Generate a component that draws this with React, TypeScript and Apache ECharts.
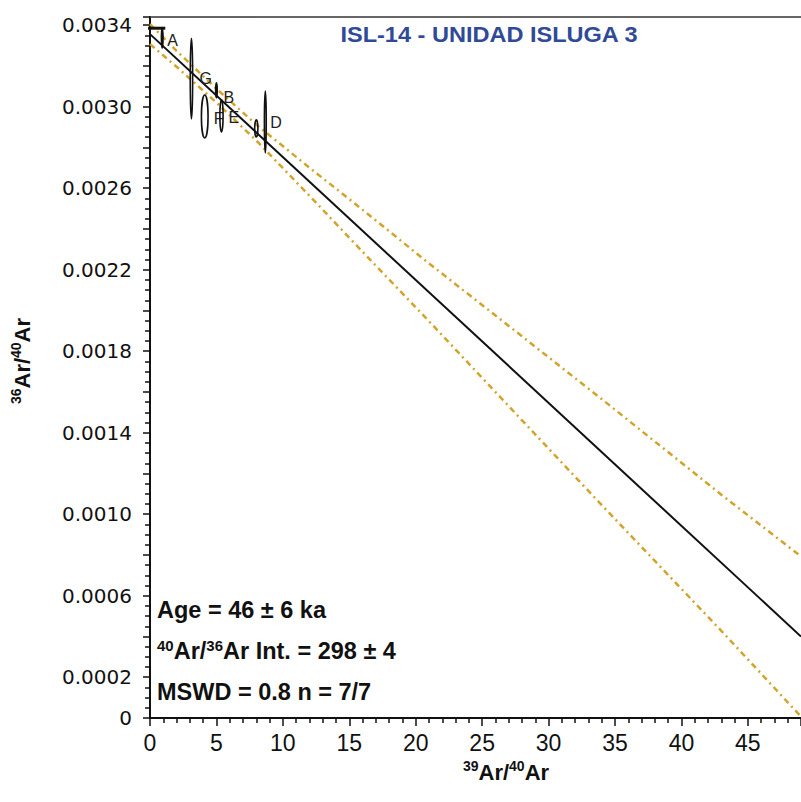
import React, { useEffect, useRef } from "react";
import * as echarts from "echarts";

// ---- data ----
const xMax = 49;
const yMax = 0.00344;

// step ellipses: [x, y, halfWidthX, halfHeightY]
const stepNames = ["A", "G", "F", "B", "E", "C", "D"];
const stepX = [0.92, 3.12, 4.12, 5.0, 5.38, 8.0, 8.68];
const stepY = [0.003336, 0.003138, 0.002952, 0.00308, 0.002955, 0.002893, 0.002925];
const stepErrX = [0.05, 0.09, 0.25, 0.05, 0.12, 0.12, 0.07];
const stepErrY = [0.000049, 0.000198, 0.000105, 0.000037, 0.000079, 0.000042, 0.000152];
const stepLabels = ["A", "G", "F", "B", "E", "", "D"];

// isochron line
const isoX = [0, 49];
const isoY = [0.003356, 0.0004];

// error envelope
const envX = [0, 2, 5, 8, 12, 16, 21, 28, 34, 43, 49];
const envUpper = [0.003405, 0.003274, 0.003088, 0.002912, 0.002701, 0.002494, 0.002231, 0.001873, 0.001565, 0.001096, 0.000793];
const envLower = [0.003307, 0.003196, 0.00302, 0.002834, 0.002563, 0.002288, 0.001947, 0.001461, 0.001045, 0.000428, 0.000007];

// intercept marker
const markX = [-0.6, 1.15];
const markY = [0.003385, 0.003385];

const titleText = "ISL-14 - UNIDAD ISLUGA 3";
const ageText = "Age = 46 ± 6 ka";
const intText = "Ar Int. = 298 ± 4";
const mswdText = "MSWD = 0.8 n = 7/7";

// label offsets (pixels) for step labels
const labelDX = [5, 8, 9, 7, 7, 5, 5];
const labelDY = [2, 0, 2, 7, 2, 1, 1];

const GOLD = "#D2A42C";
const FONT = "Liberation Sans, Arial";

export default function App() {
  const ref = useRef<HTMLDivElement>(null);
  useEffect(() => {
    if (!ref.current) return;
    const chart = echarts.init(ref.current, undefined, { renderer: "svg" });

    const ellipseData = stepNames.map((n, i) => [stepX[i], stepY[i], stepErrX[i], stepErrY[i], i]);

    const boxRich = {
      b: { fontFamily: FONT, fontWeight: "bold", fontSize: 23.5, lineHeight: 27, fill: "#111" },
      s: { fontFamily: FONT, fontWeight: "bold", fontSize: 15, lineHeight: 27, verticalAlign: "top", fill: "#111" },
    } as any;
    const nameRich = {
      b: { fontFamily: FONT, fontWeight: "bold", fontSize: 22, lineHeight: 26, fill: "#111" },
      s: { fontFamily: FONT, fontWeight: "bold", fontSize: 14, lineHeight: 26, verticalAlign: "top", fill: "#111" },
    } as any;

    const option: any = {
      animation: false,
      backgroundColor: "#fff",
      grid: { left: 150, right: 0, top: 17, bottom: 84 },
      xAxis: [
        {
          type: "value",
          min: 0,
          max: xMax,
          interval: 5,
          axisLine: { show: true, onZero: false, lineStyle: { color: "#111", width: 2 } },
          axisTick: { show: true, length: 8, lineStyle: { color: "#111", width: 1.5 } },
          minorTick: { show: true, splitNumber: 5, length: 5, lineStyle: { color: "#111", width: 1.5 } },
          splitLine: { show: false },
          axisLabel: {
            margin: 13,
            fontFamily: FONT,
            fontSize: 23,
            color: "#111",
            showMaxLabel: false,
          },
        },
        {
          type: "value",
          position: "top",
          min: 0,
          max: xMax,
          axisLine: { show: true, onZero: false, lineStyle: { color: "#333", width: 1.5 } },
          axisTick: { show: false },
          axisLabel: { show: false },
          splitLine: { show: false },
        },
      ],
      yAxis: {
        type: "value",
        min: 0,
        max: yMax,
        interval: 0.0002,
        axisLine: { show: true, onZero: false, lineStyle: { color: "#111", width: 2 } },
        axisTick: { show: true, length: 7, lineStyle: { color: "#111", width: 1.5 } },
        minorTick: { show: true, splitNumber: 4, length: 5, lineStyle: { color: "#111", width: 1.5 } },
        splitLine: { show: false },
        axisLabel: {
          margin: 18,
          fontFamily: "DejaVu Sans",
          fontSize: 20,
          color: "#111",
          showMaxLabel: false,
          formatter: (v: number) => {
            const k = Math.round(v / 0.0002);
            if (k === 0) return "0";
            if (k % 2 === 1) return v.toFixed(4);
            return "";
          },
        },
      },
      series: [
        {
          type: "line",
          data: envX.map((x, i) => [x, envUpper[i]]),
          showSymbol: false,
          symbol: "none",
          lineStyle: { color: GOLD, width: 2.5, type: [6, 4, 2, 4] },
          z: 2,
        },
        {
          type: "line",
          data: envX.map((x, i) => [x, envLower[i]]),
          showSymbol: false,
          symbol: "none",
          lineStyle: { color: GOLD, width: 2.5, type: [6, 4, 2, 4] },
          z: 2,
        },
        {
          type: "line",
          data: isoX.map((x, i) => [x, isoY[i]]),
          showSymbol: false,
          symbol: "none",
          lineStyle: { color: "#111", width: 2 },
          z: 3,
        },
        {
          type: "line",
          data: markX.map((x, i) => [x, markY[i]]),
          showSymbol: false,
          symbol: "none",
          clip: false,
          lineStyle: { color: "#111", width: 3 },
          z: 4,
        },
        {
          type: "custom",
          clip: false,
          z: 5,
          data: ellipseData,
          renderItem: (params: any, api: any) => {
            const c = api.coord([api.value(0), api.value(1)]);
            const s = api.size([api.value(2), api.value(3)]);
            const i = api.value(4);
            const children: any[] = [
              {
                type: "ellipse",
                shape: { cx: c[0], cy: c[1], rx: Math.max(s[0], 0.8), ry: s[1] },
                style: { fill: "none", stroke: "#111", lineWidth: 1.6 },
              },
            ];
            if (stepLabels[i]) {
              children.push({
                type: "text",
                x: c[0] + labelDX[i],
                y: c[1] + labelDY[i],
                style: {
                  text: stepLabels[i],
                  fontFamily: FONT,
                  fontSize: 16,
                  fill: "#222",
                  align: "left",
                  verticalAlign: "middle",
                },
              });
            }
            return { type: "group", children };
          },
        },
      ],
      graphic: [
        {
          type: "text",
          x: 489,
          y: 34,
          scaleX: 1.07,
          style: {
            text: titleText,
            fontFamily: FONT,
            fontWeight: "bold",
            fontSize: 22,
            fill: "#2F4A96",
            align: "center",
            verticalAlign: "middle",
          },
        },
        {
          type: "text",
          x: 157,
          y: 610,
          style: {
            text: ageText,
            fontFamily: FONT,
            fontWeight: "bold",
            fontSize: 23.5,
            fill: "#111",
            align: "left",
            verticalAlign: "middle",
          },
        },
        {
          type: "text",
          x: 157,
          y: 651,
          style: {
            text: "{s|40}{b|Ar/}{s|36}{b|" + intText + "}",
            rich: boxRich,
            align: "left",
            verticalAlign: "middle",
          },
        },
        {
          type: "text",
          x: 157,
          y: 692,
          style: {
            text: mswdText,
            fontFamily: FONT,
            fontWeight: "bold",
            fontSize: 23.5,
            fill: "#111",
            align: "left",
            verticalAlign: "middle",
          },
        },
        {
          type: "text",
          x: 506,
          y: 772,
          style: {
            text: "{s|39}{b|Ar/}{s|40}{b|Ar}",
            rich: nameRich,
            align: "center",
            verticalAlign: "middle",
          },
        },
        {
          type: "text",
          x: 22,
          y: 361,
          rotation: Math.PI / 2,
          style: {
            text: "{s|36}{b|Ar/}{s|40}{b|Ar}",
            rich: nameRich,
            align: "center",
            verticalAlign: "middle",
          },
        },
      ],
    };
    chart.setOption(option);
    return () => chart.dispose();
  }, []);
  return <div ref={ref} style={{ width: 801, height: 802, position: "absolute", left: 0, top: 0 }} />;
}
